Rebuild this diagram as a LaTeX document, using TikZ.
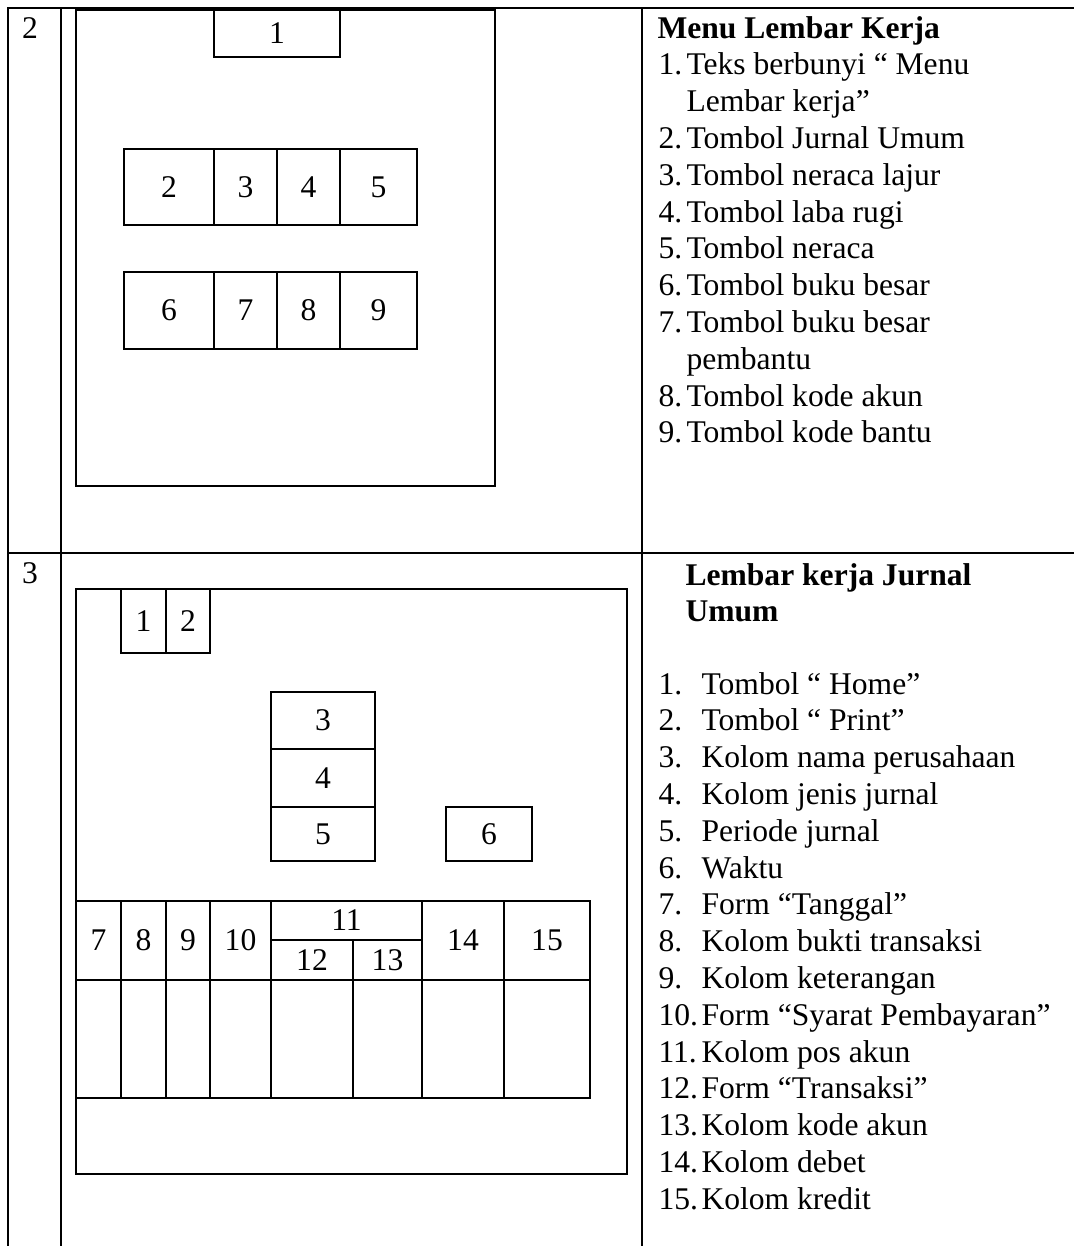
\documentclass[tikz,border=0pt]{standalone}
\usepackage{fontspec}
\setmainfont{Liberation Serif}
\begin{document}
\begin{tikzpicture}[x=0.38pt, y=-0.38pt,
  every node/.style={font=\fontsize{12}{14}\selectfont, inner sep=0pt},
  rule/.style={line width=0.6pt},
  cell/.style={draw, line width=0.6pt},
  item/.style={anchor=base west},
  head/.style={anchor=base west, font=\fontsize{12}{14}\selectfont\bfseries}]
\useasboundingbox[fill=white] (0,0) rectangle (1074,1246);
% outer table
\draw[rule] (8,1246) -- (8,8) -- (1074,8);
\draw[rule] (61,8) -- (61,1246);
\draw[rule] (642,8) -- (642,1246);
\draw[rule] (8,553) -- (1074,553);
\node (no2) at (30,28) {2};
\node (no3) at (30,573) {3};

% menu lembar kerja
\draw[cell] (76,10) rectangle (495,486);
\draw[cell] (214,10) rectangle node (m1) {1} (340,57);
\foreach \xa/\xb/\a/\b in {124/214/2/6, 214/277/3/7, 277/340/4/8, 340/417/5/9} {
  \draw[cell] (\xa,149) rectangle node (m\a) {\a} (\xb,225);
  \draw[cell] (\xa,272) rectangle node (m\b) {\b} (\xb,349);
}
\node[head] (mhead) at (657,38) {Menu Lembar Kerja};
\foreach \n/\t [count=\i] in {1./Teks berbunyi “ Menu, /Lembar kerja”, 2./Tombol Jurnal Umum,
    3./Tombol neraca lajur, 4./Tombol laba rugi, 5./Tombol neraca, 6./Tombol buku besar,
    7./Tombol buku besar, /pembantu, 8./Tombol kode akun, 9./Tombol kode bantu} {
  \node[item] (mn\i) at (658,{38+\i*36.8}) {\n};
  \node[item] (mt\i) at (686,{38+\i*36.8}) {\t};
}

% lembar kerja jurnal umum
\draw[cell] (76,589) rectangle (627,1174);
\draw[cell] (121,589) rectangle node (j1) {1} (166,653);
\draw[cell] (166,589) rectangle node (j2) {2} (210,653);
\draw[cell] (271,692) rectangle node (j3) {3} (375,749);
\draw[cell] (271,749) rectangle node (j4) {4} (375,807);
\draw[cell] (271,807) rectangle node (j5) {5} (375,861);
\draw[cell] (446,807) rectangle node (j6) {6} (532,861);
\foreach \xa/\xb/\a in {76/121/7, 121/166/8, 166/210/9, 210/271/10, 422/504/14, 504/590/15}
  \draw[cell] (\xa,901) rectangle node (j\a) {\a} (\xb,980);
\draw[cell] (271,901) rectangle node (j11) {11} (422,940);
\draw[cell] (271,940) rectangle node (j12) {12} (353,980);
\draw[cell] (353,940) rectangle node (j13) {13} (422,980);
\foreach \xa/\xb in {76/121, 121/166, 166/210, 210/271, 271/353, 353/422, 422/504, 504/590}
  \draw[cell] (\xa,980) rectangle (\xb,1098);
\node[head] (jhead) at (685,585) {Lembar kerja Jurnal};
\node[head] (jhead2) at (685,621) {Umum};
\foreach \t [count=\i] in {Tombol “ Home”, Tombol “ Print”, Kolom nama perusahaan,
    Kolom jenis jurnal, Periode jurnal, Waktu, Form “Tanggal”, Kolom bukti transaksi,
    Kolom keterangan, Form “Syarat Pembayaran”, Kolom pos akun, Form “Transaksi”,
    Kolom kode akun, Kolom debet, Kolom kredit} {
  \node[item] (jn\i) at (658,{694+(\i-1)*36.8}) {\i.};
  \node[item] (jt\i) at (701,{694+(\i-1)*36.8}) {\t};
}
\end{tikzpicture}
\end{document}
